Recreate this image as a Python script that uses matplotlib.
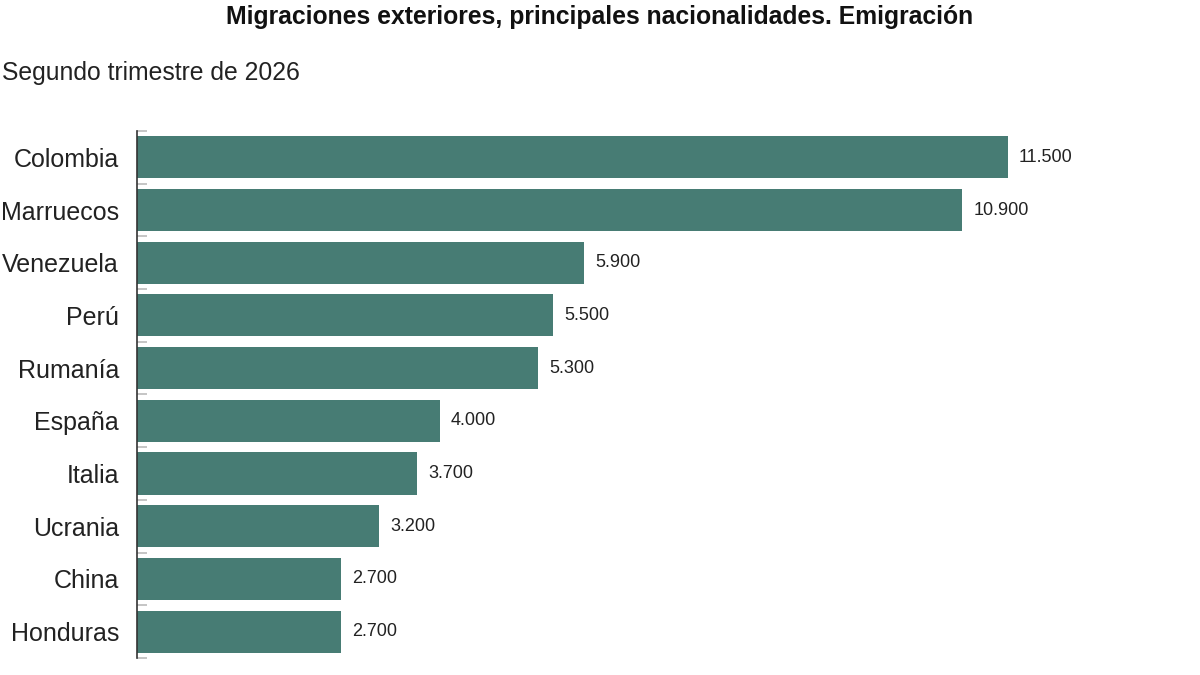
import matplotlib
matplotlib.use("Agg")
import matplotlib.pyplot as plt

plt.rcParams['font.family'] = ['Liberation Sans', 'DejaVu Sans']

# datos (miles de personas)
paises = ['Colombia', 'Marruecos', 'Venezuela', 'Perú', 'Rumanía',
          'España', 'Italia', 'Ucrania', 'China', 'Honduras']
valores = [11.5, 10.9, 5.9, 5.5, 5.3, 4.0, 3.7, 3.2, 2.7, 2.7]
etiquetas = ['11.500', '10.900', '5.900', '5.500', '5.300',
             '4.000', '3.700', '3.200', '2.700', '2.700']

color_barra = '#477c74'

fig = plt.figure(figsize=(12, 6.75), dpi=100)
ax = fig.add_axes([0.1142, 0.0252, 0.8833, 0.7808])

y = list(range(len(paises)))
ax.barh(y, valores, height=0.8, color=color_barra)

for yi, v, t in zip(y, valores, etiquetas):
    ax.annotate(t, (v, yi), xytext=(8, 0), textcoords='offset points',
                va='center', ha='left', fontsize=13, color='#222222')

ax.set_xlim(0, 14)
ax.set_ylim(len(paises) - 0.5, -0.5)
ax.set_yticks(y)
ax.set_yticklabels(paises, fontsize=18, color='#222222')
ax.tick_params(axis='y', which='major', length=0, pad=13)
ax.set_yticks([i - 0.5 for i in range(len(paises) + 1)], minor=True)
ax.tick_params(axis='y', which='minor', direction='in', length=7,
               color='#bbbbbb', width=1.2)
ax.set_xticks([])

for s in ['top', 'right', 'bottom']:
    ax.spines[s].set_visible(False)
ax.spines['left'].set_color('#333333')
ax.spines['left'].set_linewidth(1.2)

fig.text(0.5, 0.975, 'Migraciones exteriores, principales nacionalidades. Emigración',
         ha='center', va='center', fontsize=17.8, fontweight='bold', color='#111111')
fig.text(0.002, 0.892, 'Segundo trimestre de 2026',
         ha='left', va='center', fontsize=17.8, color='#222222')

fig.savefig('out.png', dpi=100)
